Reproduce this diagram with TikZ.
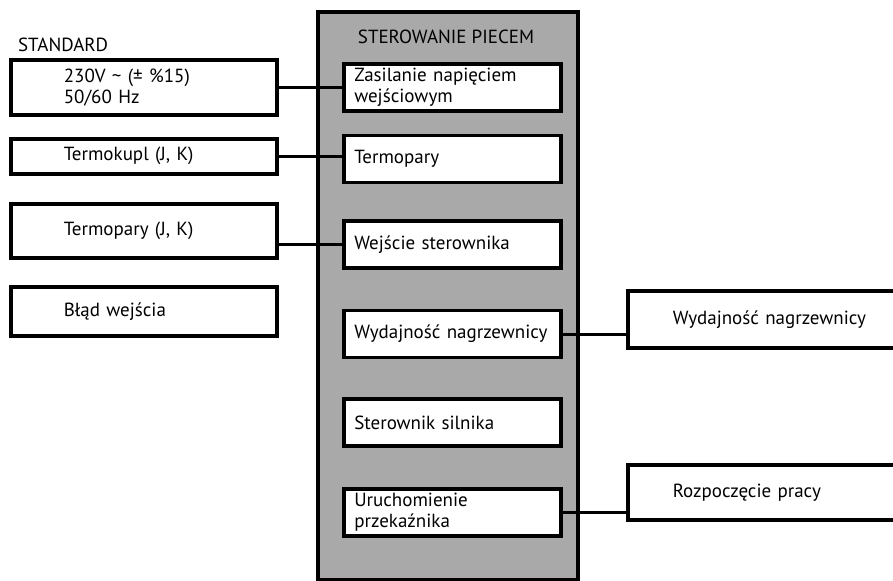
\documentclass[tikz,border=0pt]{standalone}
\usepackage{fontspec}
\setmainfont{PT Sans}
\usepackage{xcolor}
\definecolor{ovengray}{RGB}{169,169,169}
\usetikzlibrary{positioning}
\tikzset{
  panel/.style={
    rectangle, draw=black, fill=ovengray, line width=1.8pt,
    anchor=north west, minimum width=130pt, minimum height=284pt},
  inblock/.style={
    rectangle, draw=black, fill=white, line width=1.8pt,
    text width=98pt, inner xsep=5.25pt, inner ysep=1pt,
    minimum height=23.5pt, align=left,
    font=\fontsize{9.5}{10.5}\selectfont},
  sideblock/.style={
    rectangle, draw=black, fill=white, line width=1.8pt,
    text width=80pt, inner xsep=26.5pt, inner ysep=1pt,
    align=left, anchor=north west,
    font=\fontsize{9.5}{10.5}\selectfont},
  outblock/.style={
    rectangle, draw=black, fill=white, line width=1.8pt,
    text width=110pt, inner xsep=22.5pt, inner ysep=1pt,
    align=left, anchor=north west,
    font=\fontsize{9.5}{10.5}\selectfont},
  hdr/.style={font=\fontsize{9.5}{10.5}\selectfont},
  link/.style={line width=1.5pt, black},
}
\begin{document}
\begin{tikzpicture}[x=0.5pt, y=-0.5pt, node distance=10pt]
  \useasboundingbox (0,0) rectangle (893,580);
  % Sterowanie piecem
  \node[panel] (ctrl) at (316,10) {};
  \node[hdr] (title) at (446,37) {STEROWANIE PIECEM};
  \node[inblock, anchor=north west] (in1) at (342,62)
    {Zasilanie napięciem\\wejściowym};
  \node[inblock, below=10.5pt of in1] (in2) {Termopary};
  \node[inblock, below=17.5pt of in2] (in3) {Wejście sterownika};
  \node[inblock, below=19.5pt of in3] (in4) {Wydajność nagrzewnicy};
  \node[inblock, below=19pt of in4] (in5) {Sterownik silnika};
  \node[inblock, below=19.5pt of in5] (in6) {Uruchomienie\\przekaźnika};
  % wejscia
  \node[hdr, anchor=west] (std) at (11,45) {STANDARD};
  \node[sideblock, minimum height=27.5pt] (l1) at (9,58)
    {230V \textasciitilde{} (± \%15)\\50/60 Hz};
  \node[sideblock, minimum height=17.5pt] (l2) at (9,137) {Termokupl (J, K)};
  \node[sideblock, minimum height=27pt] (l3) at (9,202) {Termopary (J, K)};
  \node[sideblock, minimum height=24.5pt] (l4) at (9,285) {Błąd wejścia};
  % wyjscia
  \node[outblock, minimum height=28.5pt] (r1) at (626,289)
    {Wydajność nagrzewnicy};
  \node[outblock, minimum height=27.5pt] (r2) at (626,463)
    {Rozpoczęcie pracy};
  \draw[link] (l1.east) -- (l1.east -| in1.west);
  \draw[link] (l2.east) -- (l2.east -| in2.west);
  \draw[link] (l3.east |- in3.west) -- (in3.west);
  \draw[link] (in4.east) -- (in4.east -| r1.west);
  \draw[link] (in6.east) -- (in6.east -| r2.west);
\end{tikzpicture}
\end{document}
